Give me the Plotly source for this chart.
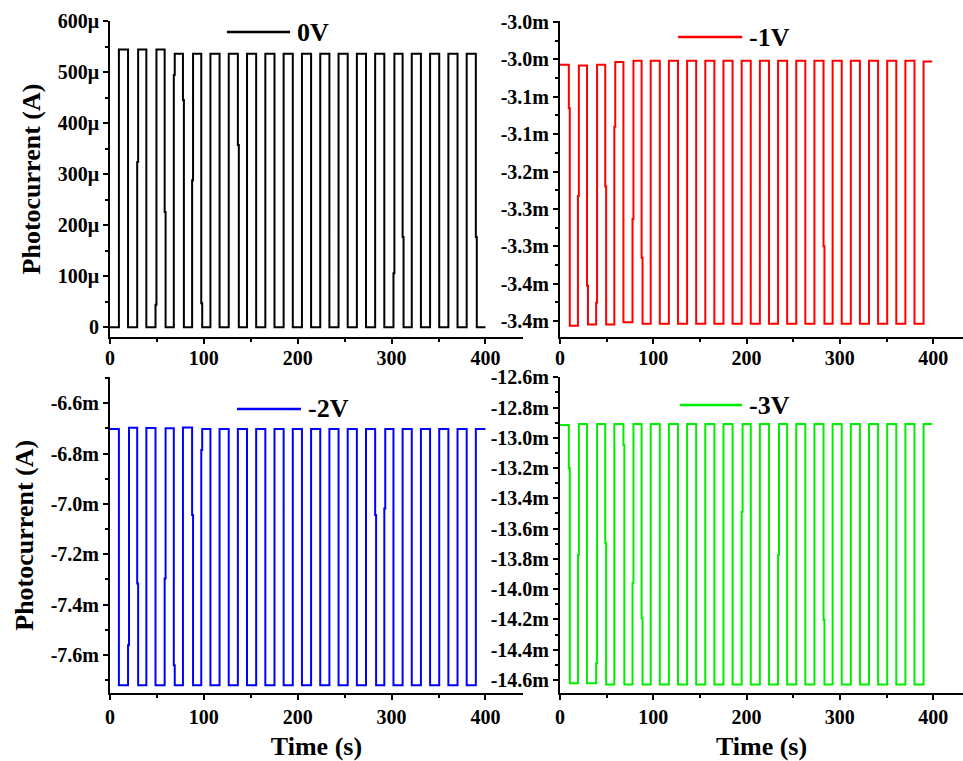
import plotly.graph_objects as go

# ---------------- data ----------------
# light ON / OFF instants (s), shared by the four measurements
on_times = [9.5, 29.0, 48.5, 68.0, 87.5, 107.0, 126.5, 146.0, 165.5, 185.0,
            204.5, 224.0, 243.5, 263.0, 282.5, 302.0, 321.5, 341.0, 360.5, 380.0]
off_times = [19.25, 38.75, 58.25, 77.75, 97.25, 116.75, 136.25, 155.75, 175.25, 194.75,
             214.25, 233.75, 253.25, 272.75, 292.25, 311.75, 331.25, 350.75, 370.25, 389.75]

# 0 V  (values in microampere)
v0_dark = [0.0] * 21
v0_light = [544, 544, 544, 536, 536, 536, 536, 536, 536, 536,
            536, 536, 536, 536, 536, 536, 536, 536, 536, 536]
v0_on_mid = [None, 324, 44, 494, 288, None, None, None, None, None,
             None, None, None, None, None, 106, None, None, None, None]
v0_off_mid = [None, None, 226, 445, 47, None, 357, None, None, None,
              None, None, None, None, None, 177, None, None, None, 177]
v0_end = 400

# -1 V  (values in milliampere)
v1_dark = [-3.043, -3.044, -3.043, -3.039, -3.037, -3.037, -3.037, -3.037, -3.037, -3.037,
           -3.037, -3.037, -3.037, -3.037, -3.037, -3.037, -3.037, -3.037, -3.037, -3.037, -3.038]
v1_light = [-3.427, -3.425, -3.425, -3.422, -3.424, -3.424, -3.424, -3.424, -3.424, -3.424,
            -3.424, -3.424, -3.424, -3.424, -3.424, -3.424, -3.424, -3.424, -3.424, -3.424]
v1_on_mid = [-3.107, -3.368, -3.222, None, -3.327, None, None, None, None, None,
             None, None, None, None, -3.310, None, None, None, None, None]
v1_off_mid = [-3.236, -3.393, -3.134, -3.270, None, None, None, None, None, None,
              None, None, None, None, None, None, None, None, None, None]
v1_end = 399

# -2 V  (mA)
v2_dark = [-6.702, -6.697, -6.698, -6.699, -6.696, -6.702, -6.702, -6.702, -6.702, -6.702,
           -6.702, -6.702, -6.702, -6.702, -6.702, -6.702, -6.702, -6.702, -6.702, -6.702, -6.702]
v2_light = [-7.720] * 20
v2_on_mid = [None, -7.316, None, -7.641, -7.044, None, None, None, None, None,
             None, None, None, None, -7.044, None, None, None, None, None]
v2_off_mid = [-7.561, None, -7.296, None, -6.786, None, None, None, None, None,
              None, None, None, None, -7.018, None, None, None, None, None]
v2_end = 400

# -3 V  (mA)
v3_dark = [-12.915, -12.908, -12.908, -12.908, -12.908, -12.908, -12.908, -12.908, -12.908, -12.908,
           -12.908, -12.908, -12.908, -12.908, -12.908, -12.908, -12.908, -12.908, -12.908, -12.908, -12.908]
v3_light = [-14.621, -14.621, -14.630, -14.630, -14.630, -14.630, -14.630, -14.630, -14.630, -14.630,
            -14.630, -14.630, -14.630, -14.630, -14.630, -14.630, -14.630, -14.630, -14.630, -14.630]
v3_on_mid = [-13.201, None, -13.696, -13.047, -14.192, None, None, None, None, None,
             None, None, None, None, -14.203, None, None, None, None, None]
v3_off_mid = [-13.774, -14.489, None, -13.961, None, None, None, None, None, -13.488,
              None, -13.774, None, None, None, None, None, None, None, None]
v3_end = 399

labels = ["0V", "-1V", "-2V", "-3V"]
colors = ["#000000", "#ff0000", "#0000ff", "#00ee00"]

x_tick_vals = [0, 100, 200, 300, 400]
x_tick_text = ["0", "100", "200", "300", "400"]

y1_tick_vals = [0, 100, 200, 300, 400, 500, 600]
y1_tick_text = ["0", "100μ", "200μ", "300μ", "400μ", "500μ", "600μ"]
y2_tick_vals = [-2.98, -3.035, -3.09, -3.145, -3.2, -3.255, -3.31, -3.365, -3.42]
y2_tick_text = ["-3.0m", "-3.0m", "-3.1m", "-3.1m", "-3.2m", "-3.3m", "-3.3m", "-3.4m", "-3.4m"]
y3_tick_vals = [-6.6, -6.8, -7.0, -7.2, -7.4, -7.6]
y3_tick_text = ["-6.6m", "-6.8m", "-7.0m", "-7.2m", "-7.4m", "-7.6m"]
y4_tick_vals = [-12.6, -12.8, -13.0, -13.2, -13.4, -13.6, -13.8, -14.0, -14.2, -14.4, -14.6]
y4_tick_text = ["-12.6m", "-12.8m", "-13.0m", "-13.2m", "-13.4m", "-13.6m",
                "-13.8m", "-14.0m", "-14.2m", "-14.4m", "-14.6m"]


def build(dark, light, on_mid, off_mid, t_end, jog=1.0):
    xs, ys = [0.0], [dark[0]]
    for k in range(len(on_times)):
        for t, a, b, m in ((on_times[k], dark[k], light[k], on_mid[k]),
                           (off_times[k], light[k], dark[k + 1], off_mid[k])):
            xs.append(t); ys.append(a)
            if m is None:
                xs.append(t); ys.append(b)
            else:
                xs += [t, t + jog, t + jog]
                ys += [m, m, b]
    xs.append(t_end); ys.append(dark[-1])
    return xs, ys


series = [
    build(v0_dark, v0_light, v0_on_mid, v0_off_mid, v0_end),
    build(v1_dark, v1_light, v1_on_mid, v1_off_mid, v1_end),
    build(v2_dark, v2_light, v2_on_mid, v2_off_mid, v2_end),
    build(v3_dark, v3_light, v3_on_mid, v3_off_mid, v3_end),
]

FONT = "Liberation Serif"

fig = go.Figure()
for i, (xs, ys) in enumerate(series):
    sfx = "" if i == 0 else str(i + 1)
    fig.add_trace(go.Scatter(x=xs, y=ys, mode="lines", name=labels[i],
                             line=dict(color=colors[i], width=2),
                             xaxis="x" + sfx, yaxis="y" + sfx, showlegend=False))

xdom_l = [0.1142, 0.5431]
xdom_r = [0.5815, 1.0]
ydom_t = [0.5572, 0.9724]
ydom_b = [0.0890, 0.5042]

tickfont = dict(family=FONT, size=20, color="black", weight="bold")
titlefont = dict(family=FONT, size=26, color="black", weight="bold")


def xax(dom, anchor, rng, title=None, standoff=0):
    d = dict(domain=dom, anchor=anchor, range=rng, showline=True, linewidth=2, linecolor="black",
             ticks="outside", ticklen=5, tickwidth=2, tickcolor="black",
             tickvals=x_tick_vals, ticktext=x_tick_text, tickfont=tickfont,
             ticklabelstandoff=standoff,
             showgrid=False, zeroline=False, automargin=False,
             minor=dict(tickvals=[50, 150, 250, 350], ticklen=3, tickwidth=2,
                        tickcolor="black", ticks="outside", showgrid=False))
    if title:
        d["title"] = dict(text=title, font=titlefont, standoff=12)
    return d


def yax(dom, anchor, rng, vals, text, minor_vals, title=None):
    d = dict(domain=dom, anchor=anchor, range=rng, showline=True, linewidth=2, linecolor="black",
             ticks="outside", ticklen=5, tickwidth=2, tickcolor="black",
             tickvals=vals, ticktext=text, tickfont=tickfont,
             showgrid=False, zeroline=False, automargin=False,
             minor=dict(tickvals=minor_vals, ticklen=3, tickwidth=2,
                        tickcolor="black", ticks="outside", showgrid=False))
    if title:
        d["title"] = dict(text=title, font=titlefont, standoff=10)
    return d


y1_minor = [50, 150, 250, 350, 450, 550]
y2_minor = [(y2_tick_vals[i] + y2_tick_vals[i + 1]) / 2 for i in range(len(y2_tick_vals) - 1)]
y3_minor = [-6.5, -6.7, -6.9, -7.1, -7.3, -7.5, -7.7]
y4_minor = [-12.7, -12.9, -13.1, -13.3, -13.5, -13.7, -13.9, -14.1, -14.3, -14.5]

fig.update_layout(
    template="none",
    width=963, height=761, autosize=False,
    margin=dict(l=0, r=0, t=0, b=0, pad=0, autoexpand=False),
    paper_bgcolor="white", plot_bgcolor="white",
    xaxis=xax(xdom_l, "y", [0, 440], standoff=-3),
    yaxis=yax(ydom_t, "x", [-19, 600], y1_tick_vals, y1_tick_text, y1_minor, "Photocurrent (A)"),
    xaxis2=xax(xdom_r, "y2", [0, 432], standoff=-3),
    yaxis2=yax(ydom_t, "x2", [-3.4435, -2.9785], y2_tick_vals, y2_tick_text, y2_minor),
    xaxis3=xax(xdom_l, "y3", [0, 440], "Time (s)"),
    yaxis3=yax(ydom_b, "x3", [-7.752, -6.497], y3_tick_vals, y3_tick_text, y3_minor, "Photocurrent (A)"),
    xaxis4=xax(xdom_r, "y4", [0, 432], "Time (s)"),
    yaxis4=yax(ydom_b, "x4", [-14.688, -12.6], y4_tick_vals, y4_tick_text, y4_minor),
    showlegend=False,
)

# legend keys (line sample + label) inside each panel
legend_pos = [  # (x0, x1, y) in axis-domain fractions
    (0.283, 0.436, 0.965),
    (0.293, 0.452, 0.949),
    (0.3075, 0.4625, 0.900),
    (0.298, 0.4516, 0.912),
]
for i, (x0, x1, yy) in enumerate(legend_pos):
    sfx = "" if i == 0 else str(i + 1)
    fig.add_shape(type="line", xref="x" + sfx + " domain", yref="y" + sfx + " domain",
                  x0=x0, x1=x1, y0=yy, y1=yy, line=dict(color=colors[i], width=2.5))
    fig.add_annotation(text=labels[i], xref="x" + sfx + " domain", yref="y" + sfx + " domain",
                       x=x1 + 0.012, y=yy, xanchor="left", yanchor="middle", showarrow=False,
                       font=dict(family=FONT, size=26, color="black", weight="bold"))

fig.write_html("out.html")
